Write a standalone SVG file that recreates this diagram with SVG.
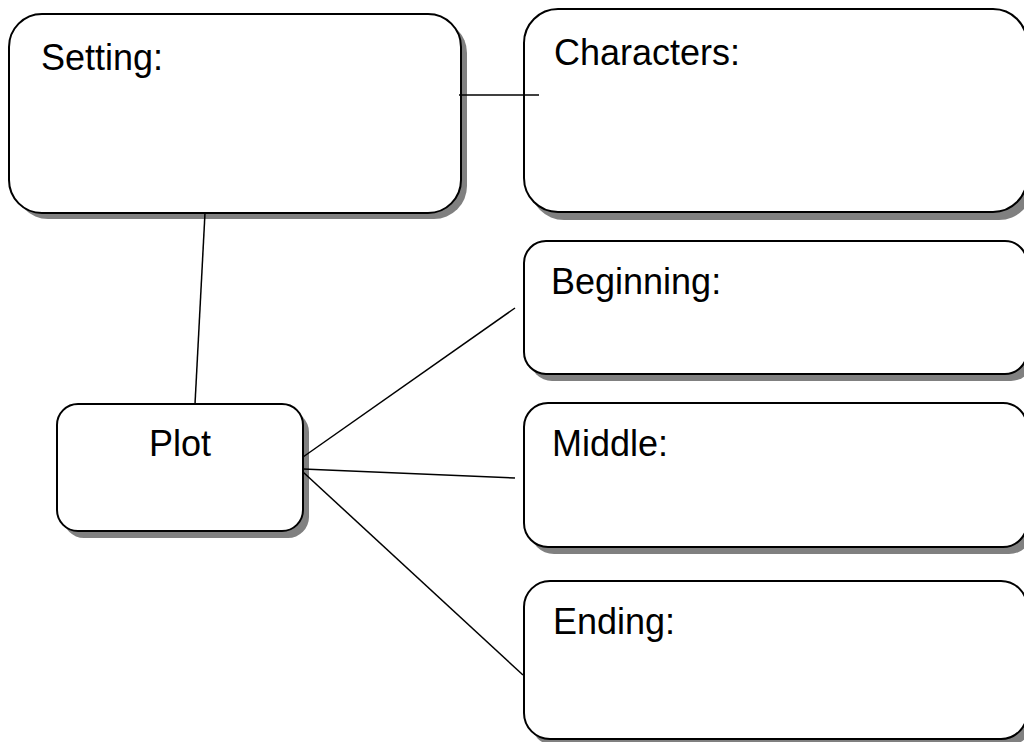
<svg xmlns="http://www.w3.org/2000/svg" width="1024" height="742" viewBox="0 0 1024 742">
  <style>
    .shadow { fill: #808080; stroke: none; }
    .box { fill: #ffffff; stroke: #000000; stroke-width: 2; }
    .label { font-family: "Liberation Sans", Arial, sans-serif; font-size: 36px; fill: #000000; }
    .conn { stroke: #000000; stroke-width: 1.5; fill: none; }
  </style>
  <rect width="1024" height="742" fill="#ffffff"/>
  <g id="setting">
    <rect class="shadow" x="15" y="20" width="452" height="199" rx="33" ry="33"/>
    <rect class="box" x="9" y="14" width="452" height="199" rx="33" ry="33"/>
    <text class="label" x="41" y="70">Setting:</text>
  </g>
  <g id="characters">
    <rect class="shadow" x="530" y="17" width="503" height="203" rx="34" ry="34"/>
    <rect class="box" x="524" y="9" width="503" height="203" rx="34" ry="34"/>
    <text class="label" x="554" y="65">Characters:</text>
  </g>
  <g id="beginning">
    <rect class="shadow" x="530" y="248" width="503" height="133" rx="22" ry="22"/>
    <rect class="box" x="524" y="241" width="503" height="133" rx="22" ry="22"/>
    <text class="label" x="551" y="294">Beginning:</text>
  </g>
  <g id="middle">
    <rect class="shadow" x="530" y="410" width="503" height="144" rx="24" ry="24"/>
    <rect class="box" x="524" y="403" width="503" height="144" rx="24" ry="24"/>
    <text class="label" x="552" y="456">Middle:</text>
  </g>
  <g id="ending">
    <rect class="shadow" x="530" y="588" width="503" height="158" rx="26" ry="26"/>
    <rect class="box" x="524" y="581" width="503" height="158" rx="26" ry="26"/>
    <text class="label" x="553" y="634">Ending:</text>
  </g>
  <g id="plot">
    <rect class="shadow" x="63" y="411" width="246" height="127" rx="21" ry="21"/>
    <rect class="box" x="57" y="404" width="246" height="127" rx="21" ry="21"/>
    <text class="label" x="180" y="456" text-anchor="middle">Plot</text>
  </g>
  <g id="connectors">
    <line class="conn" x1="459" y1="95" x2="539" y2="95"/>
    <line class="conn" x1="205" y1="213" x2="195" y2="404"/>
    <line class="conn" x1="303" y1="457" x2="515" y2="308"/>
    <line class="conn" x1="303" y1="469" x2="515" y2="478"/>
    <line class="conn" x1="303" y1="472" x2="523" y2="675"/>
  </g>
</svg>
